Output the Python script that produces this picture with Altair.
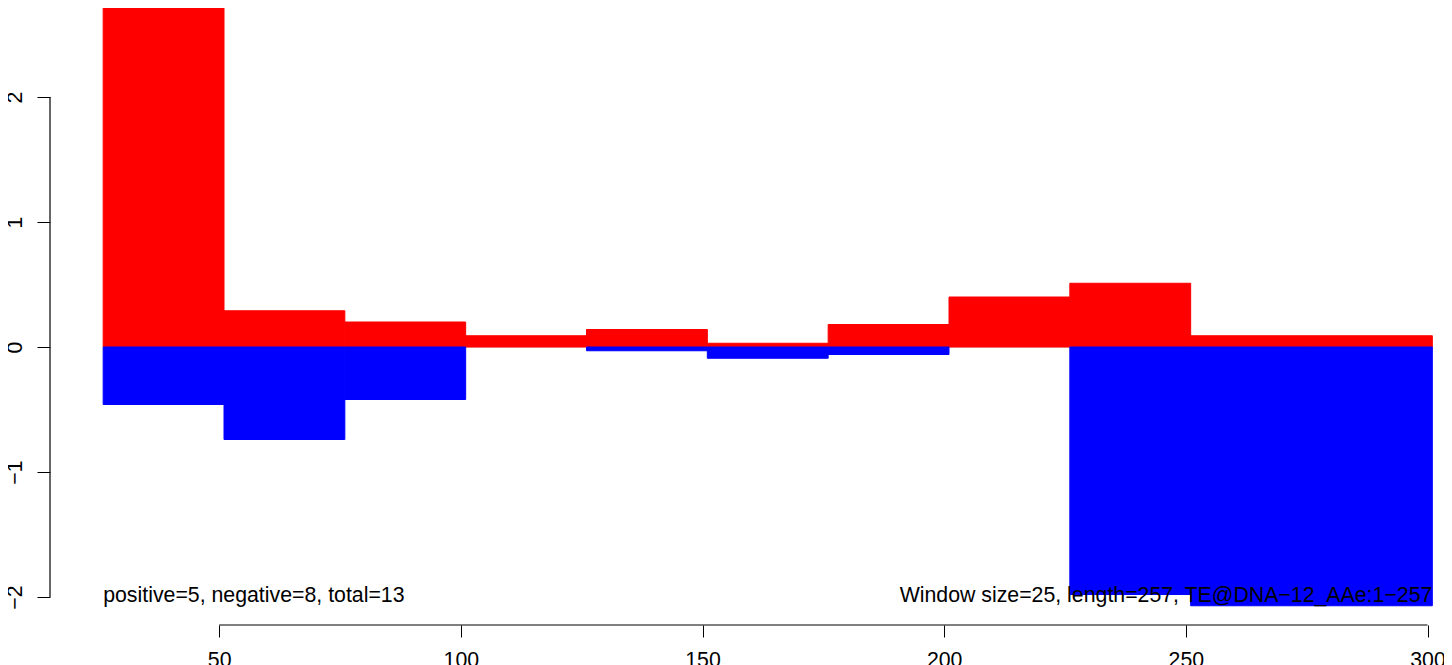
import altair as alt
import pandas as pd

# window start / end positions
starts = [26, 51, 76, 101, 126, 151, 176, 201, 226, 251, 276]
ends = [51, 76, 101, 126, 151, 176, 201, 226, 251, 276, 301]
# positive (red) and negative (blue) values
pos_vals = [2.75, 0.29, 0.20, 0.09, 0.14, 0.03, 0.18, 0.40, 0.51, 0.09, 0.09]
neg_vals = [-0.46, -0.74, -0.42, 0.0, -0.03, -0.09, -0.06, 0.0, -1.98, -2.07, -2.07]

x_ticks = [50, 100, 150, 200, 250, 300]
y_ticks = [-2, -1, 0, 1, 2]

left_text = "positive=5, negative=8, total=13"
right_text = "Window size=25, length=257, TE@DNA\u221212_AAe:1\u2212257"

df = pd.DataFrame({"start": starts, "end": ends, "pos": pos_vals, "neg": neg_vals})

FONT = "Liberation Sans"
FS = 21.3

xscale = alt.Scale(domain=[15, 303], nice=False, zero=False)
yscale = alt.Scale(domain=[-2.224, 2.712], nice=False, zero=False)

xaxis = alt.Axis(values=x_ticks, title=None, domain=False, grid=False, tickSize=12,
                 tickColor="black", tickWidth=1, labelFontSize=FS, labelFont=FONT,
                 labelColor="black", labelPadding=12, format="d")
yaxis = alt.Axis(values=y_ticks, title=None, domain=False, grid=False, tickSize=13,
                 tickColor="black", tickWidth=1, labelFontSize=FS, labelFont=FONT,
                 labelColor="black", labelAngle=270, labelAlign="center",
                 labelBaseline="alphabetic", labelPadding=16, format="d")

base = alt.Chart(df)

zero_line = base.mark_rule(color="#bebebe", strokeWidth=1).encode(
    x=alt.X("min(start):Q", scale=xscale, axis=xaxis),
    x2=alt.X2("max(end):Q"),
    y=alt.Y("z:Q", scale=yscale, axis=yaxis),
).transform_calculate(z="0")

red = base.mark_rect(color="#ff0000", stroke="#ff0000", strokeWidth=1, clip=True).encode(
    x=alt.X("start:Q", scale=xscale, axis=xaxis),
    x2="end:Q",
    y=alt.Y("pos:Q", scale=yscale, axis=yaxis),
    y2=alt.datum(0),
).transform_filter("datum.pos > 0")

blue = base.mark_rect(color="#0000ff", stroke="#0000ff", strokeWidth=1, clip=True).encode(
    x=alt.X("start:Q", scale=xscale, axis=xaxis),
    x2="end:Q",
    y=alt.Y("neg:Q", scale=yscale, axis=yaxis),
    y2=alt.datum(0),
).transform_filter("datum.neg < 0")

yline_df = pd.DataFrame({"lo": [min(y_ticks)], "hi": [max(y_ticks)]})
y_axis_line = alt.Chart(yline_df).mark_rule(color="black", strokeWidth=1.2).encode(
    x=alt.value(0),
    y=alt.Y("lo:Q", scale=yscale, axis=yaxis),
    y2="hi:Q",
)

xline_df = pd.DataFrame({"lo": [min(x_ticks)], "hi": [max(x_ticks)]})
x_axis_line = alt.Chart(xline_df).mark_rule(color="black", strokeWidth=1.2).encode(
    y=alt.value(617),
    x=alt.X("lo:Q", scale=xscale, axis=xaxis),
    x2="hi:Q",
)

text_df = pd.DataFrame({
    "x": [starts[0], ends[-1]],
    "y": [-2.04, -2.04],
    "label": [left_text, right_text],
})
left_label = alt.Chart(text_df.iloc[[0]]).mark_text(
    align="left", baseline="alphabetic", font=FONT, fontSize=FS, color="black"
).encode(
    x=alt.X("x:Q", scale=xscale, axis=xaxis),
    y=alt.Y("y:Q", scale=yscale, axis=yaxis),
    text="label:N",
)
right_label = alt.Chart(text_df.iloc[[1]]).mark_text(
    align="right", baseline="alphabetic", font=FONT, fontSize=FS, color="black"
).encode(
    x=alt.X("x:Q", scale=xscale, axis=xaxis),
    y=alt.Y("y:Q", scale=yscale, axis=yaxis),
    text="label:N",
)

chart = alt.layer(
    zero_line, red, blue, y_axis_line, x_axis_line, left_label, right_label
).properties(
    width=1392,
    height=617,
    padding={"left": 42, "top": 0, "right": 2, "bottom": 40},
    autosize=alt.AutoSizeParams(type="none"),
    background="white",
).configure_view(stroke=None)

chart.save("out.html", embed_options={"renderer": "svg", "actions": False})
